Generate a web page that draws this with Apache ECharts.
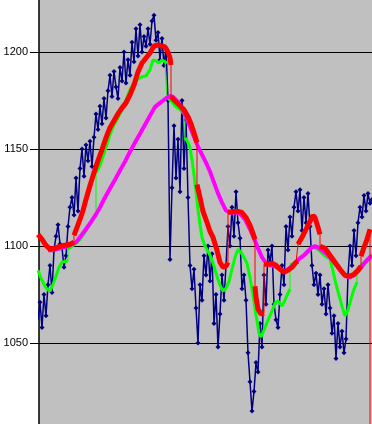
<!DOCTYPE html>
<html><head><meta charset="utf-8">
<script src="https://cdn.jsdelivr.net/npm/echarts@6/dist/echarts.min.js"></script>
<style>html,body{margin:0;padding:0;background:#fff;overflow:hidden;width:372px;height:424px;position:relative}#c{position:absolute;left:0;top:-44.7px;width:372px;height:485px}</style>
</head><body><div id="c"></div>
<script>
// y axis
const yMin = 1000, yMax = 1250, yStep = 50;

// price series (navy), one value every 2 index units starting at 0
const navyStep = 2;
const navyValues = [
1062,1071,1058,1075,1064, 1080,1090,1076,1098,1105,
1111,1101,1099,1089,1095, 1110,1120,1125,1116,1135,
1118,1140,1150,1136,1152, 1144,1154,1141,1156,1168,
1160,1172,1163,1176,1166, 1180,1188,1177,1190,1182,
1176,1192,1185,1200,1184, 1196,1188,1205,1195,1212,
1198,1214,1200,1208,1203, 1212,1204,1216,1219,1206,
1210,1196,1207,1193,1202, 1175,1093,1130,1162,1135,
1155,1128,1175,1140,1165, 1125,1090,1078,1088,1068,
1050,1080,1072,1095,1085, 1100,1082,1096,1060,1075,
1048,1065,1085,1072,1090, 1110,1100,1120,1105,1128,
1112,1104,1078,1085,1072, 1045,1030,1015,1025,1040,
1035,1060,1048,1085,1070, 1098,1092,1100,1070,1062,
1058,1075,1090,1080,1110, 1098,1115,1105,1120,1128,
1118,1129,1108,1125,1112, 1127,1110,1090,1080,1086,
1075,1085,1070,1078,1065, 1080,1068,1055,1064,1042,
1060,1048,1056,1045,1052, 1085,1100,1090,1108,1095,
1112,1120,1115,1126,1118, 1127,1122,1124
];

// red band: runs of [index, value]
const redSegments = [
 [[0,1106.0],[4,1103.4],[8,1100.3],[12,1098.3],[17,1098.8],[22,1099.9],[27,1100.4],[32,1100.9],[36,1101.9]],
 [[36,1105.5],[39,1109.6],[42,1113.7],[45,1118.3],[48,1124.0],[52,1131.2],[56,1137.8],[60,1144.0],[64,1149.7],[68,1155.8],[72,1161.0],[76,1164.6],[80,1168.2],[84,1171.2],[88,1173.8],[92,1177.9],[96,1183.0],[100,1189.7],[104,1194.3],[108,1196.9],[112,1199.5],[116,1203.1],[120,1203.6],[124,1203.1],[127,1202.6],[130,1200.0],[132,1196.9],[133,1193.3]],
 [[133,1176.9],[137,1174.8],[142,1172.3],[146,1170.2],[150,1166.6],[153,1163.0],[156,1158.4],[159,1153.3]],
 [[159,1131.7],[162,1125.0],[165,1117.8],[169,1112.2],[172,1107.5],[175,1104.5],[179,1097.8],[182,1091.6],[185,1089.0],[188,1089.6],[190,1091.6]],
 [[190,1117.3],[195,1117.8],[200,1117.8],[204,1117.3],[208,1114.7],[212,1110.6],[215,1106.5],[217,1103.4]],
 [[217,1079.3],[218,1073.6],[220,1067.5],[223,1064.9],[226,1065.4]],
 [[226,1090.6],[230,1090.6],[234,1091.1],[238,1090.1],[242,1088.0],[246,1086.5],[250,1087.5],[254,1089.0],[258,1091.6],[260,1092.1]],
 [[260,1100.9],[264,1104.5],[268,1108.6],[272,1112.7],[275,1115.8],[277,1114.7],[280,1109.6],[282,1106.0]],
 [[282,1099.9],[287,1098.8],[292,1095.2],[297,1091.6],[302,1088.0],[307,1084.9],[312,1084.4],[316,1085.4],[320,1087.5],[323,1089.6]],
 [[323,1094.7],[326,1099.3],[329,1103.4],[332,1108.6]]
];
const redLast = [[332, 0]];

// green band
const greenSegments = [
 [[0,1087.5],[3,1083.4],[6,1080.3],[9,1077.7],[12,1076.7],[15,1080.3],[18,1084.4],[21,1089.0],[24,1091.6],[27,1092.1],[30,1092.1]],
 [[30,1098.3],[34,1099.9],[38,1101.4],[42,1103.4],[46,1106.5],[50,1109.6],[54,1113.2],[58,1116.8]],
 [[58,1137.8],[62,1141.4],[65,1146.1],[68,1150.7],[72,1157.4],[76,1162.5],[80,1166.1],[84,1170.2],[88,1175.3],[92,1180.5],[96,1184.1],[100,1186.1],[104,1187.2],[108,1187.7],[112,1190.8],[115,1195.9],[118,1195.4],[121,1194.3],[124,1195.9],[127,1194.9],[129,1194.3]],
 [[129,1176.4],[133,1174.8],[137,1172.3],[142,1170.2],[147,1167.6]],
 [[147,1155.8],[150,1153.3],[152,1150.7],[154,1144.5],[156,1136.8],[158,1128.1],[160,1118.8],[162,1111.1],[164,1104.5],[167,1099.9],[170,1097.3],[173,1094.2],[176,1089.6],[179,1084.4],[182,1079.8],[185,1076.7],[188,1078.3],[191,1081.8],[194,1088.0],[197,1094.2],[200,1098.3],[203,1096.7],[206,1094.2],[209,1091.1],[212,1083.9],[215,1074.7],[218,1064.4],[221,1055.1],[223,1053.1],[226,1056.7],[230,1061.8],[234,1066.4],[237,1070.5],[240,1071.6],[244,1069.0],[247,1072.1],[250,1075.7],[252,1077.7]],
 [[252,1090.1],[256,1091.1],[260,1092.6],[264,1094.7],[268,1096.7],[272,1098.8],[275,1099.3],[278,1098.8],[282,1097.3],[286,1095.2],[289,1094.2],[292,1093.2],[295,1087.0],[298,1080.3],[301,1074.7],[304,1069.0],[307,1063.9],[310,1067.0],[313,1072.6],[316,1077.7],[319,1081.3]],
 [[319,1088.0],[323,1090.1],[327,1092.1],[331,1094.2],[334,1095.7]]
];

// magenta moving average
const magentaPoints = [
 [10,1097.8],[14,1097.8],[18,1098.3],[22,1098.8],[26,1099.3],[30,1099.9],[34,1100.9],[38,1101.9],[42,1104.5],[47,1108.0],[52,1111.6],[58,1116.3],
 [62,1119.9],[67,1125.0],[72,1129.6],[77,1134.2],[82,1138.9],[87,1143.5],[92,1148.6],[97,1153.3],[102,1157.9],[107,1162.5],[112,1167.1],[117,1171.7],
 [122,1173.8],[126,1175.3],[130,1176.9],[133,1177.4],[136,1176.4],[140,1174.3],[144,1170.7],[148,1166.6],[152,1161.5],[156,1156.3],[160,1151.2],
 [164,1147.1],[168,1143.0],[172,1138.4],[176,1132.7],[180,1127.1],[184,1122.4],[188,1118.3],[192,1117.3],[197,1117.3],[202,1116.8],[207,1113.7],
 [212,1108.6],[216,1103.9],[220,1098.8],[224,1094.2],[228,1091.1],[232,1090.1],[237,1089.6],[242,1088.0],[246,1087.0],[250,1088.0],[254,1089.6],
 [258,1091.6],[262,1093.7],[266,1095.2],[270,1097.3],[274,1099.3],[277,1099.9],[280,1099.3],[284,1097.8],[288,1096.2],[292,1094.2],[296,1091.6],
 [300,1089.0],[304,1086.5],[308,1084.4],[312,1083.9],[316,1084.9],[320,1087.0],[324,1089.6],[328,1092.1],[332,1094.2],[334,1095.2]
];

function thickData(segs){
  const out = [];
  segs.forEach((s, k) => { if (k > 0) out.push([s[0][0], null]); s.forEach(p => out.push(p)); });
  return out;
}
function thinData(segs){ return segs.flat(); }

const navyData = navyValues.map((v, k) => [k * navyStep, v]);

const chart = echarts.init(document.getElementById('c'), null, {renderer: 'canvas'});
chart.setOption({
  animation: false,
  grid: {left: 39, right: 0, top: 0, bottom: 0, show: true, backgroundColor: '#C0C0C0', borderWidth: 0,
         outerBoundsMode: 'none', containLabel: false},
  xAxis: {type: 'value', min: 1, max: 334, show: false},
  yAxis: {
    type: 'value', min: yMin, max: yMax, interval: yStep,
    axisLine: {show: true, lineStyle: {color: '#000', width: 1.5}},
    axisTick: {show: true, length: 9, lineStyle: {color: '#000'}},
    axisLabel: {color: '#000', fontSize: 11, fontFamily: 'Liberation Sans, Arial, sans-serif', margin: 11,
                formatter: v => String(v)},
    splitLine: {show: true, lineStyle: {color: '#000', width: 1}}
  },
  series: [
    {type: 'line', data: navyData, symbol: 'diamond', symbolSize: 5, showSymbol: true,
     itemStyle: {color: '#000080'}, lineStyle: {color: '#000080', width: 1.5}, z: 1},
    {type: 'line', data: thinData(greenSegments), symbol: 'none', lineStyle: {color: '#00FF00', width: 1}, z: 2},
    {type: 'line', data: thickData(greenSegments), symbol: 'none', connectNulls: false, lineStyle: {color: '#00FF00', width: 3}, z: 3},
    {type: 'line', data: magentaPoints, symbol: 'none', lineStyle: {color: '#FF00FF', width: 4}, z: 4},
    {type: 'line', data: thinData(redSegments).concat(redLast), symbol: 'none', lineStyle: {color: '#FF0000', width: 1}, z: 5},
    {type: 'line', data: thickData(redSegments), symbol: 'none', connectNulls: false, lineStyle: {color: '#FF0000', width: 5}, z: 6}
  ]
});
</script>
</body></html>
